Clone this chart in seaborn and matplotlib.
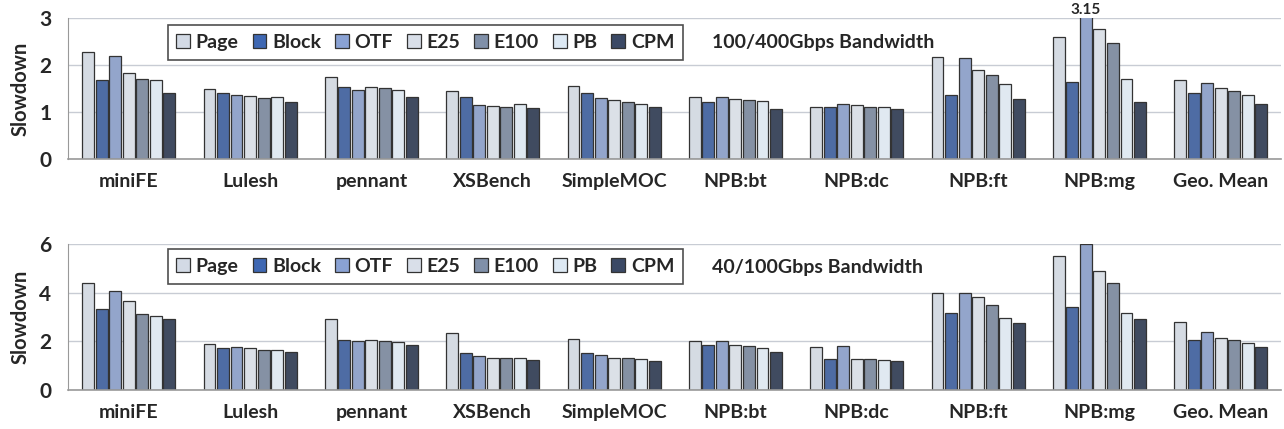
import pandas as pd
import matplotlib
matplotlib.use("Agg")
import matplotlib.pyplot as plt
import seaborn as sns
from matplotlib.patches import Patch

# benchmarks and schemes
benchmarks = ["miniFE", "Lulesh", "pennant", "XSBench", "SimpleMOC",
              "NPB:bt", "NPB:dc", "NPB:ft", "NPB:mg", "Geo. Mean"]
schemes = ["Page", "Block", "OTF", "E25", "E100", "PB", "CPM"]
colors = ["#d3dae5", "#3f68b3", "#8aa2d4", "#d9dfe9", "#8090a9", "#dde9f4", "#3b4965"]

# slowdown, 100/400Gbps (one list per scheme, in benchmark order)
hi_page  = [2.28, 1.50, 1.74, 1.44, 1.56, 1.32, 1.11, 2.18, 2.60, 1.69]
hi_block = [1.68, 1.40, 1.54, 1.32, 1.40, 1.21, 1.11, 1.37, 1.64, 1.40]
hi_otf   = [2.20, 1.37, 1.48, 1.16, 1.30, 1.32, 1.18, 2.14, 3.15, 1.62]
hi_e25   = [1.84, 1.35, 1.54, 1.14, 1.26, 1.28, 1.16, 1.90, 2.77, 1.51]
hi_e100  = [1.71, 1.31, 1.52, 1.11, 1.21, 1.26, 1.11, 1.79, 2.46, 1.45]
hi_pb    = [1.69, 1.33, 1.46, 1.18, 1.18, 1.23, 1.11, 1.59, 1.71, 1.37]
hi_cpm   = [1.40, 1.21, 1.33, 1.09, 1.11, 1.06, 1.06, 1.28, 1.21, 1.18]

# slowdown, 40/100Gbps
lo_page  = [4.42, 1.88, 2.93, 2.36, 2.11, 2.01, 1.77, 3.99, 5.53, 2.78]
lo_block = [3.32, 1.73, 2.05, 1.53, 1.53, 1.86, 1.29, 3.16, 3.41, 2.05]
lo_otf   = [4.08, 1.77, 2.01, 1.38, 1.42, 2.01, 1.82, 3.99, 6.00, 2.40]
lo_e25   = [3.66, 1.73, 2.05, 1.33, 1.33, 1.86, 1.29, 3.81, 4.90, 2.15]
lo_e100  = [3.12, 1.63, 2.01, 1.33, 1.33, 1.82, 1.29, 3.51, 4.42, 2.05]
lo_pb    = [3.04, 1.63, 1.97, 1.33, 1.27, 1.73, 1.23, 2.97, 3.16, 1.92]
lo_cpm   = [2.93, 1.58, 1.86, 1.23, 1.19, 1.58, 1.19, 2.74, 2.92, 1.77]

BAR_W = 0.78


def to_long(series):
    rows = []
    for s, vals in zip(schemes, series):
        for b, v in zip(benchmarks, vals):
            rows.append({"bench": b, "scheme": s, "slowdown": v})
    return pd.DataFrame(rows)


df_hi = to_long([hi_page, hi_block, hi_otf, hi_e25, hi_e100, hi_pb, hi_cpm])
df_lo = to_long([lo_page, lo_block, lo_otf, lo_e25, lo_e100, lo_pb, lo_cpm])

sns.set_style("white")
plt.rcParams["font.family"] = ["Lato", "DejaVu Sans"]
plt.rcParams["font.weight"] = "bold"

fig = plt.figure(figsize=(12.84, 4.29), dpi=100)
ax1 = fig.add_axes([0.053, 0.629, 0.945, 0.329])
ax2 = fig.add_axes([0.053, 0.091, 0.945, 0.340])

panels = [
    (ax1, df_hi, 3, [0, 1, 2, 3], "100/400Gbps Bandwidth", 0.95, 0.83),
    (ax2, df_lo, 6, [0, 2, 4, 6], "40/100Gbps Bandwidth", 0.965, 0.84),
]

for ax, df, ymax, yt, label, leg_y, txt_y in panels:
    sns.barplot(data=df, x="bench", y="slowdown", hue="scheme", order=benchmarks,
                hue_order=schemes, palette=colors, width=BAR_W, gap=0.12,
                edgecolor="#333333", linewidth=0.9, ax=ax, legend=False)
    ax.set_ylim(0, ymax)
    ax.set_xlim(-0.5, len(benchmarks) - 0.5)
    ax.set_yticks(yt)
    ax.yaxis.grid(True, color="#c8ccd4", linewidth=1)
    ax.set_axisbelow(True)
    for sp in ["top", "right"]:
        ax.spines[sp].set_visible(False)
    ax.spines["left"].set_color("#999999")
    ax.spines["bottom"].set_color("#999999")
    ax.spines["bottom"].set_linewidth(1.2)
    ax.set_xlabel("")
    ax.set_ylabel("Slowdown", fontsize=14.5, fontweight="bold", labelpad=6)
    ax.tick_params(axis="x", length=0, labelsize=14, pad=10)
    ax.tick_params(axis="y", length=0, labelsize=15, pad=12)
    ax.set_xticks([i + 0.5 for i in range(len(benchmarks) - 1)], minor=True)
    ax.tick_params(axis="x", which="minor", length=5, direction="out",
                   color="#555555", width=1.2)
    for t in ax.get_xticklabels() + ax.get_yticklabels():
        t.set_fontweight("bold")
    handles = [Patch(facecolor=c, edgecolor="#333333", linewidth=0.9) for c in colors]
    leg = ax.legend(handles, schemes, ncol=7, loc="upper left",
                    bbox_to_anchor=(0.082, leg_y), borderaxespad=0,
                    frameon=True, fancybox=False, edgecolor="#222222",
                    fontsize=14, handlelength=0.7, handleheight=0.7,
                    handletextpad=0.3, columnspacing=0.72, borderpad=0.45)
    leg.get_frame().set_linewidth(1.2)
    for t in leg.get_texts():
        t.set_fontweight("bold")
    ax.text(0.531, txt_y, label, transform=ax.transAxes, fontsize=14,
            fontweight="bold", va="center", ha="left")

# value label above the clipped OTF bar (OTF is hue slot 2 of 7)
mg = benchmarks.index("NPB:mg")
otf_x = mg + (schemes.index("OTF") - 3) * BAR_W / len(schemes)
ax1.text(otf_x, 3.03, "3.15", ha="center", va="bottom", fontsize=11,
         fontweight="bold", clip_on=False)

fig.savefig("out.png", dpi=100)
